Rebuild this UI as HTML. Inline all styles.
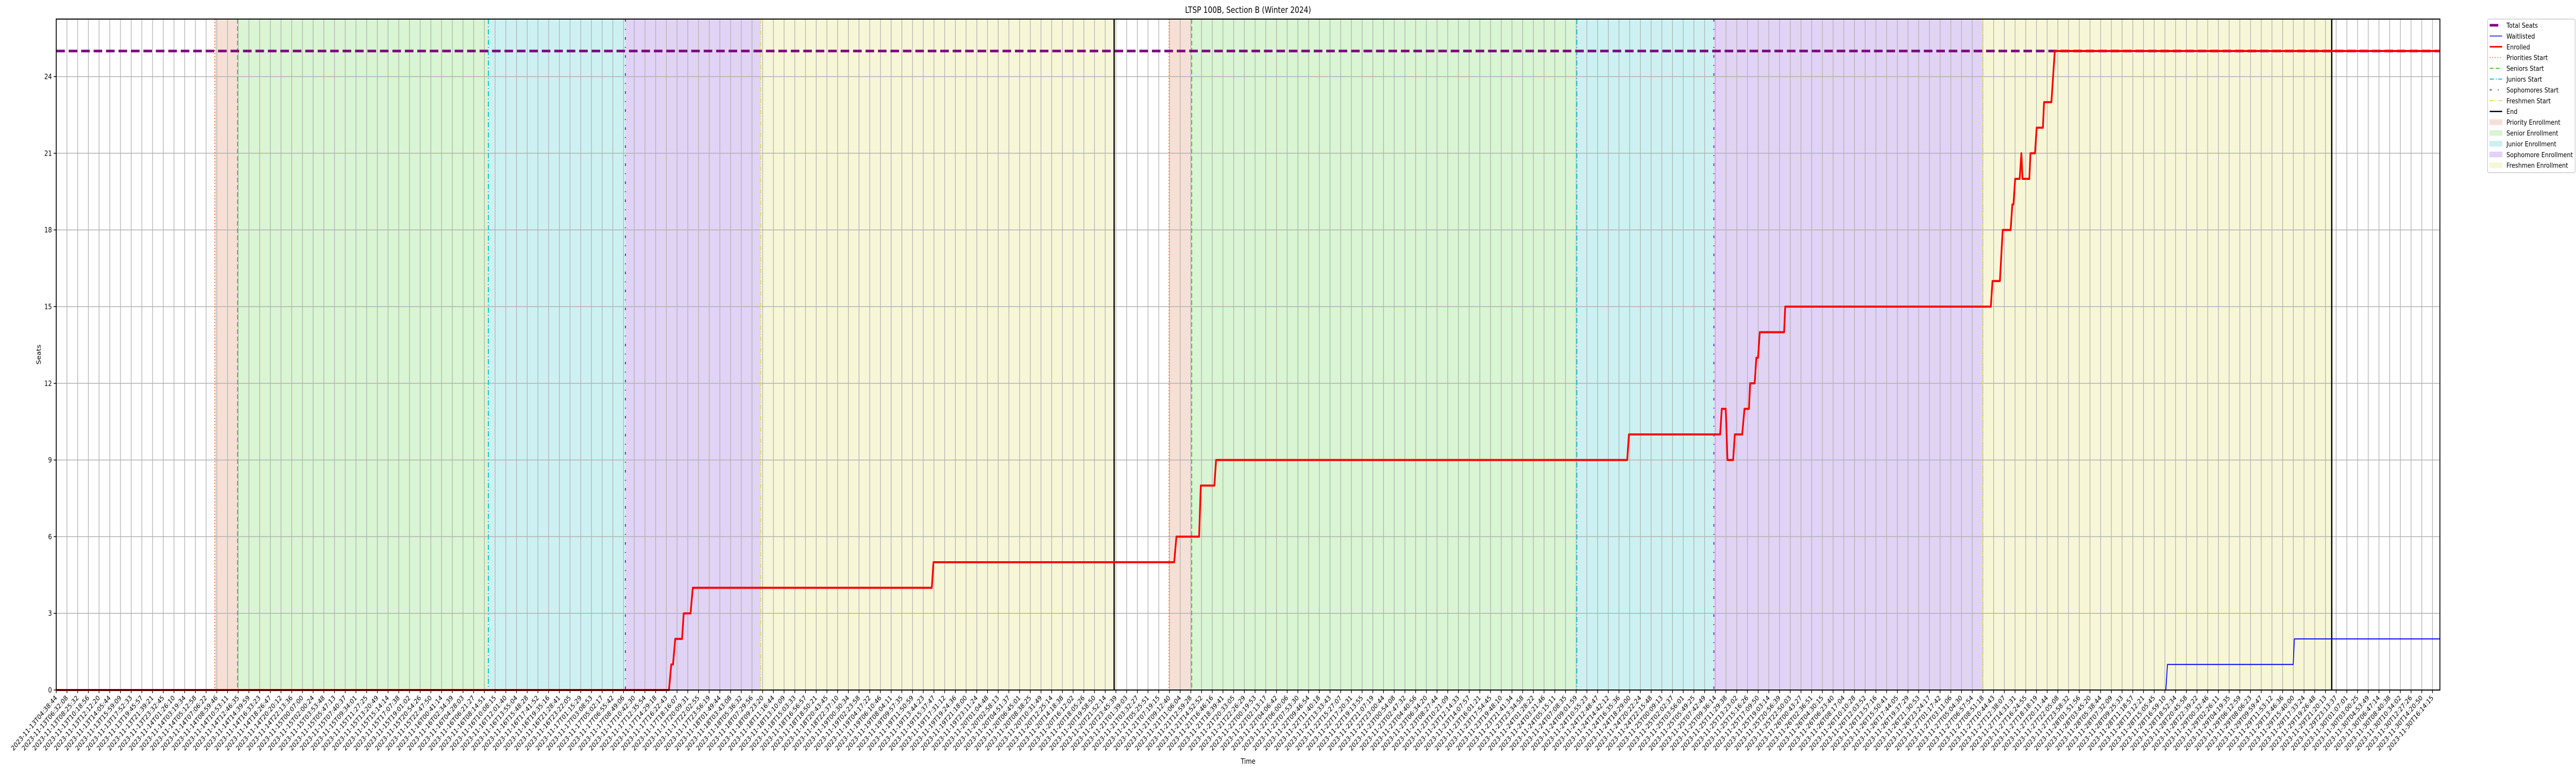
<!DOCTYPE html>
<html>
<head>
<meta charset="utf-8">
<style>
  html, body { margin:0; padding:0; background:#fff; width:100%; height:100%; overflow:hidden; }
  svg { display:block; width:100vw; height:100vh; font-family:"DejaVu Sans","Liberation Sans",sans-serif; }
</style>
</head>
<body>
<svg id="chart" xmlns="http://www.w3.org/2000/svg" viewBox="0 0 6000 1500" preserveAspectRatio="none">
  <rect x="0" y="0" width="6000" height="1500" fill="#ffffff"/>
  <text x="2907" y="25" font-size="16.5" text-anchor="middle" fill="#000">LTSP 100B, Section B (Winter 2024)</text>
  <text x="0" y="0" font-size="14" text-anchor="middle" fill="#000" transform="translate(95,688) rotate(-90)">Seats</text>
  <text x="2907" y="1482" font-size="14" text-anchor="middle" fill="#000">Time</text>
  <g id="plot"></g>
  <g id="legend"></g>
</svg>
<script>
// ---- data (x values are hours after 2023-11-13T04:38:44) ----
const startTimeLabel = "2023-11-13T04:38:44";
const lastTickLabel = "2023-11-30T16:14:15";
const xMaxHours = 420.9;
const yTicks = [0, 3, 6, 9, 12, 15, 18, 21, 24];
const totalSeats = 25;
const phaseNames = ["Priority Enrollment", "Senior Enrollment", "Junior Enrollment", "Sophomore Enrollment", "Freshmen Enrollment"];
const period1Starts = [28.0, 32.0, 76.3, 100.5, 124.4];
const period1End = 186.8;
const period2Starts = [196.5, 200.5, 268.5, 292.7, 340.2];
const period2End = 401.8;
const enrolledHours = [0, 108.2, 108.6, 108.9, 109.3, 110.5, 110.8, 112.0, 112.4, 154.6, 154.9,
  197.4, 197.8, 201.8, 202.1, 204.5, 204.8, 277.4, 277.7,
  293.8, 294.1, 294.8, 295.1, 296.1, 296.4, 297.7, 298.1, 298.9, 299.1, 299.9, 300.2, 300.5, 300.8,
  305.1, 305.3, 341.6, 341.9, 343.2, 343.7, 345.1, 345.4, 345.6, 345.9, 346.7, 347.0, 347.2,
  348.4, 348.6, 349.4, 349.7, 350.8, 351.0, 352.3, 352.9, 420.9];
const enrolledValues = [0, 0, 1, 1, 2, 2, 3, 3, 4, 4, 5,
  5, 6, 6, 8, 8, 9, 9, 10,
  10, 11, 11, 9, 9, 10, 10, 11, 11, 12, 12, 13, 13, 14,
  14, 15, 15, 16, 16, 18, 18, 19, 19, 20, 20, 21, 20,
  20, 21, 21, 22, 22, 23, 23, 25, 25];
const waitHours = [0, 372.5, 372.8, 395.0, 395.2, 420.9];
const waitValues = [0, 0, 1, 1, 2, 2];

// ---- styling ----
const L = 131, R = 5683, T = 37, B = 1339, Y_MAX = 26.25;
const fillColors = ["#f6e0d6", "#d9f5d3", "#cdf1f2", "#e1d3f5", "#f7f7d8"];
const lineColors = ["#f0702e", "#44cc22", "#00c8d0", "#6a1fd8", "#e0e040"];
const lineDash = ["2,4", "9,5", "10,4,2,4", "5,14,2,14", "9,3,2,3,2,3"];
const NS = "http://www.w3.org/2000/svg";
const plot = document.getElementById("plot");
const legend = document.getElementById("legend");

function xScale(h) { return L + (h / xMaxHours) * (R - L); }
function yScale(v) { return B - (v / Y_MAX) * (B - T); }
function mk(tag, attrs, parent) {
  const el = document.createElementNS(NS, tag);
  for (const k in attrs) el.setAttribute(k, attrs[k]);
  parent.appendChild(el);
  return el;
}
function parseUTC(s) {
  const m = s.match(/(\d+)-(\d+)-(\d+)T(\d+):(\d+):(\d+)/);
  return Date.UTC(+m[1], +m[2] - 1, +m[3], +m[4], +m[5], +m[6]);
}
const t0 = parseUTC(startTimeLabel);
const tLast = (parseUTC(lastTickLabel) - t0) / 3600000;
const tickIntervals = 222;

// phase shading
[[period1Starts, period1End], [period2Starts, period2End]].forEach(function (p, pi) {
  const starts = p[0], end = p[1];
  starts.forEach(function (s, i) {
    const e = i < starts.length - 1 ? starts[i + 1] : end;
    const r = mk("rect", { x: xScale(s), y: T, width: xScale(e) - xScale(s), height: B - T, fill: fillColors[i] }, plot);
    
    
  });
});

// grid + x ticks
const tickG = mk("g", {}, plot);


for (let i = 0; i <= tickIntervals; i++) {
  const h = i * tLast / tickIntervals;
  const x = xScale(h);
  const gl = mk("line", { x1: x, x2: x, y1: T, y2: B, stroke: "#b0b0b0", "stroke-width": 1.5 }, plot);
  
  
  mk("line", { x1: x, x2: x, y1: B, y2: B + 6, stroke: "#000", "stroke-width": 1.5 }, tickG);
  const label = new Date(t0 + h * 3600000).toISOString().slice(0, 19);
  const tx = mk("text", { x: x + 3, y: B + 16, "font-size": 13.3, "text-anchor": "end", fill: "#000",
    transform: "rotate(-45 " + (x + 3) + " " + (B + 16) + ")" }, tickG);
  tx.textContent = label;
  
  
}
// y grid + ticks
yTicks.forEach(function (v) {
  const y = yScale(v);
  const gl = mk("line", { x1: L, x2: R, y1: y, y2: y, stroke: "#b0b0b0", "stroke-width": 1.5 }, plot);
  
  
  mk("line", { x1: L - 6, x2: L, y1: y, y2: y, stroke: "#000", "stroke-width": 1.5 }, plot);
  const t = mk("text", { x: L - 10, y: y + 5, "font-size": 14, "text-anchor": "end", fill: "#000" }, plot);
  t.textContent = String(v);
  
  
});

// phase start lines and end lines
[[period1Starts, period1End], [period2Starts, period2End]].forEach(function (p, pi) {
  p[0].forEach(function (s, i) {
    const ln = mk("line", { x1: xScale(s), x2: xScale(s), y1: T, y2: B, stroke: lineColors[i], "stroke-width": 2.2, "stroke-dasharray": lineDash[i] }, plot);
    
    
  });
  const el = mk("line", { x1: xScale(p[1]), x2: xScale(p[1]), y1: T, y2: B, stroke: "#000", "stroke-width": 3 }, plot);
  
  
});

// total seats
const ts = mk("line", { x1: L, x2: R, y1: yScale(totalSeats), y2: yScale(totalSeats), stroke: "#800080", "stroke-width": 5, "stroke-dasharray": "20,9" }, plot);



function pathFrom(hs, vs) {
  return hs.map(function (h, i) { return (i ? "L" : "M") + xScale(h).toFixed(1) + "," + yScale(vs[i]).toFixed(1); }).join(" ");
}
const wl = mk("path", { d: pathFrom(waitHours, waitValues), fill: "none", stroke: "#0000ff", "stroke-width": 2, "stroke-linejoin": "round" }, plot);


const en = mk("path", { d: pathFrom(enrolledHours, enrolledValues), fill: "none", stroke: "#ff0000", "stroke-width": 4, "stroke-linejoin": "round" }, plot);



// frame
const fr = mk("rect", { x: L, y: T, width: R - L, height: B - T, fill: "none", stroke: "#000", "stroke-width": 2 }, plot);



// legend
const lbox = mk("rect", { x: 5794, y: 37, width: 204, height: 298, rx: 3, fill: "#fff", stroke: "#cccccc", "stroke-width": 1.5 }, legend);


const legendLabels = ["Total Seats", "Waitlisted", "Enrolled", "Priorities Start", "Seniors Start", "Juniors Start", "Sophomores Start", "Freshmen Start", "End"].concat(phaseNames);
legendLabels.forEach(function (lab, i) {
  const y = 49 + i * 20.9;
  const g = mk("g", {}, legend);
  
  
  if (i === 0) mk("line", { x1: 5799, x2: 5819, y1: y, y2: y, stroke: "#800080", "stroke-width": 5 }, g);
  else if (i === 1) mk("line", { x1: 5799, x2: 5828, y1: y, y2: y, stroke: "#0000ff", "stroke-width": 1.5 }, g);
  else if (i === 2) mk("line", { x1: 5799, x2: 5828, y1: y, y2: y, stroke: "#ff0000", "stroke-width": 3 }, g);
  else if (i <= 7) mk("line", { x1: 5799, x2: 5828, y1: y, y2: y, stroke: lineColors[i - 3], "stroke-width": 2, "stroke-dasharray": lineDash[i - 3] }, g);
  else if (i === 8) mk("line", { x1: 5799, x2: 5828, y1: y, y2: y, stroke: "#000", "stroke-width": 2.5 }, g);
  else mk("rect", { x: 5799, y: y - 5, width: 29, height: 10, fill: fillColors[i - 9], stroke: fillColors[i - 9] }, g);
  const t = mk("text", { x: 5838, y: y + 5, "font-size": 13.5, fill: "#000" }, g);
  t.textContent = lab;
});
</script>
</body>
</html>
